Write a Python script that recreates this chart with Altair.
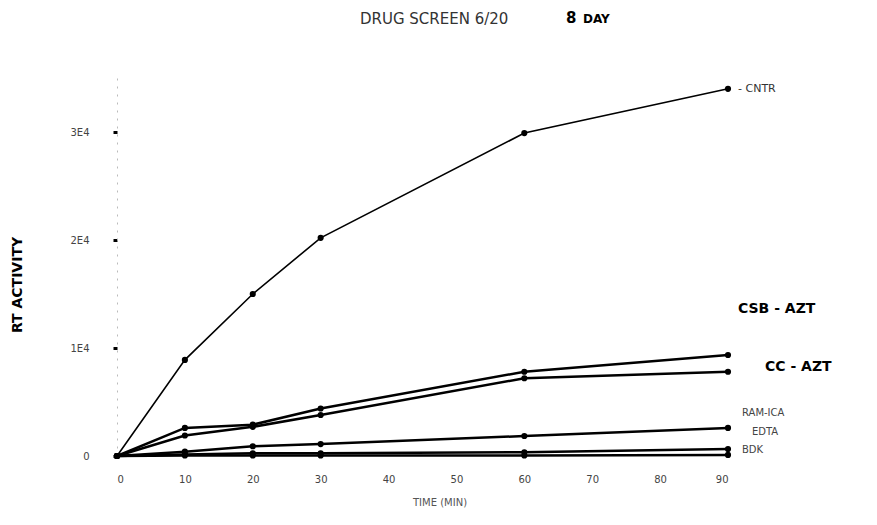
import altair as alt
import pandas as pd

# ---- data ----
time_min = [0, 10, 20, 30, 60, 90]
cntr = [0, 8900, 15000, 20200, 29900, 34000]
csb_azt = [0, 2600, 2900, 4400, 7800, 9350]
cc_azt = [0, 1900, 2700, 3800, 7200, 7800]
ram = [0, 400, 900, 1100, 1850, 2600]
edta = [0, 150, 250, 250, 350, 650]
bdk = [0, 50, 50, 50, 50, 100]

series_names = ["CNTR", "CSB - AZT", "CC - AZT", "RAM-ICA", "EDTA", "BDK"]
series_vals = [cntr, csb_azt, cc_azt, ram, edta, bdk]

x_ticks = [0, 10, 20, 30, 40, 50, 60, 70, 80, 90]
y_ticks = [0, 10000, 20000, 30000]

rows = []
for name, vals in zip(series_names, series_vals):
    for t, v in zip(time_min, vals):
        rows.append({"series": name, "time": t, "rt": v})
df = pd.DataFrame(rows)

W, H = 611, 378
FONT = "DejaVu Sans"

x_enc = alt.X("time:Q", scale=alt.Scale(domain=[0, 90], nice=False),
              axis=alt.Axis(values=x_ticks, title=None, domain=False, ticks=False,
                            grid=False, labelPadding=18, labelFontSize=10,
                            labelColor="#444", labelFont=FONT))
y_enc = alt.Y("rt:Q", scale=alt.Scale(domain=[0, 35000], nice=False),
              axis=alt.Axis(values=y_ticks, title=None, grid=False,
                            labelExpr="datum.value == 0 ? '0' : (datum.value/10000) + 'E4'",
                            domainColor="#bbb", domainDash=[2, 6], tickColor="#000",
                            tickSize=4, tickWidth=3, labelPadding=24, labelFontSize=10,
                            labelColor="#444", labelFont=FONT))

base = alt.Chart(df).encode(x=x_enc, y=y_enc, detail="series:N")

thick = base.transform_filter(alt.datum.series != "CNTR").mark_line(
    color="black", strokeWidth=2.5)
thin = base.transform_filter(alt.datum.series == "CNTR").mark_line(
    color="black", strokeWidth=1.6)
pts = base.mark_circle(color="black", size=38, opacity=1)

def txt(s, x, y, size=11, weight="normal", color="#222", angle=0, align="left"):
    return alt.Chart(pd.DataFrame({"t": [s]})).mark_text(
        font=FONT, fontSize=size, fontWeight=weight, color=color, angle=angle,
        align=align, baseline="middle").encode(
        text="t:N", x=alt.value(x), y=alt.value(y))

ox, oy = 117, 78  # page position of the plot origin
ann = [
    txt("DRUG SCREEN 6/20", 360 - ox, 19 - oy, size=15, color="#333"),
    txt("8", 566 - ox, 18 - oy, size=15, weight="bold", color="#000"),
    txt("DAY", 583 - ox, 19 - oy, size=12, weight="bold", color="#000"),
    txt("RT ACTIVITY", 18 - ox, 285 - oy, size=14, weight="bold", color="#000",
        angle=270, align="center"),
    txt("TIME (MIN)", 440 - ox, 503 - oy, size=10, color="#555", align="center"),
    txt("- CNTR", 738 - ox, 89 - oy, size=11, color="#333"),
    txt("CSB - AZT", 738 - ox, 309 - oy, size=14, weight="bold", color="#000"),
    txt("CC - AZT", 765 - ox, 367 - oy, size=14, weight="bold", color="#000"),
    txt("RAM-ICA", 742 - ox, 413 - oy, size=10, color="#444"),
    txt("EDTA", 752 - ox, 432 - oy, size=10, color="#444"),
    txt("BDK", 742 - ox, 450 - oy, size=10, color="#444"),
]

chart = alt.layer(thin, thick, pts, *ann).properties(
    width=W, height=H,
    autosize=alt.AutoSizeParams(type="none"),
    padding={"left": 109, "top": 70, "right": 141, "bottom": 69},
).configure(background="white").configure_view(stroke=None, strokeWidth=0)

chart.save("out.html", embed_options={"renderer": "svg", "actions": False})
